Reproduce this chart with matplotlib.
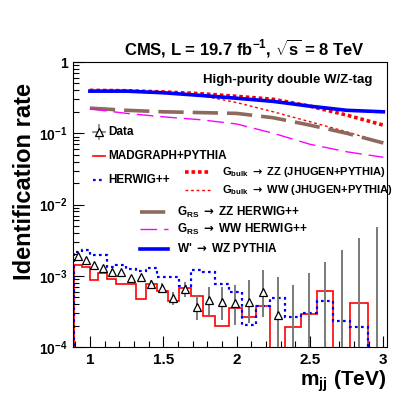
import numpy as np
import matplotlib
matplotlib.use('Agg')
import matplotlib.pyplot as plt
from matplotlib.ticker import FixedLocator, LogLocator, MultipleLocator, NullFormatter

plt.rcParams['font.family'] = ['Liberation Sans', 'DejaVu Sans']
plt.rcParams['font.weight'] = 'bold'
plt.rcParams['mathtext.fontset'] = 'custom'
plt.rcParams['mathtext.rm'] = 'Liberation Sans:bold'
plt.rcParams['mathtext.bf'] = 'Liberation Sans:bold'
plt.rcParams['mathtext.it'] = 'Liberation Sans:bold'
plt.rcParams['mathtext.sf'] = 'DejaVu Sans'
plt.rcParams['mathtext.default'] = 'bf'

# dijet mass bin edges (TeV)
edges = [0.890, 0.944, 1.000, 1.058, 1.118, 1.181, 1.246, 1.313, 1.383, 1.455, 1.530,
         1.607, 1.687, 1.770, 1.856, 1.945, 2.037, 2.132, 2.231, 2.332, 2.438, 2.546,
         2.659, 2.775, 2.895, 3.019]

# data: identification rate with error bar ends (0 = empty bin)
data_rate = [1.89e-3, 1.66e-3, 1.42e-3, 1.27e-3, 1.14e-3, 1.12e-3, 9.2e-4, 9.7e-4, 7.7e-4,
             6.7e-4, 4.9e-4, 6.45e-4, 3.64e-4, 4.57e-4, 4.24e-4, 4.15e-4, 4.33e-4, 5.97e-4,
             2.81e-4, 0, 0, 0, 0, 0, 0]
data_up = [2.0e-3, 1.76e-3, 1.51e-3, 1.36e-3, 1.23e-3, 1.21e-3, 1.0e-3, 1.06e-3, 8.7e-4,
           7.9e-4, 5.97e-4, 8.25e-4, 5.37e-4, 7.02e-4, 6.95e-4, 7.41e-4, 8.7e-4, 1.2e-3,
           9.6e-4, 7.4e-4, 1.09e-3, 1.56e-3, 2.3e-3, 3.39e-3, 4.83e-3]
data_dn = [1.78e-3, 1.56e-3, 1.33e-3, 1.18e-3, 1.05e-3, 1.03e-3, 8.4e-4, 8.8e-4, 6.8e-4,
           5.73e-4, 3.88e-4, 5.08e-4, 2.39e-4, 2.81e-4, 2.39e-4, 2.04e-4, 2.17e-4, 2.66e-4,
           0, 0, 0, 0, 0, 0, 0]

# QCD simulation
madgraph = [1.43e-3, 1.34e-3, 8.6e-4, 1.08e-3, 9.1e-4, 7.66e-4, 7.66e-4, 4.67e-4, 7.74e-4,
            6.17e-4, 4.43e-4, 6.73e-4, 5.2e-4, 2.72e-4, 1.97e-4, 3.52e-4, 2.61e-4, 3.76e-4,
            0, 1.89e-4, 2.9e-4, 6.1e-4, 0, 4.1e-4, 0]
herwig = [2.13e-3, 2.30e-3, 1.95e-3, 1.95e-3, 1.34e-3, 1.42e-3, 1.23e-3, 1.17e-3, 1.30e-3,
          9.6e-4, 9.6e-4, 7.18e-4, 1.2e-3, 1.13e-3, 7.66e-4, 5.86e-4, 2.04e-4, 3.76e-4,
          4.83e-4, 2.66e-4, 3.03e-4, 4.43e-4, 2.32e-4, 1.93e-4, 0]

# signal efficiencies vs resonance mass
sig_mass = [1.0, 1.25, 1.5, 1.75, 2.0, 2.25, 2.5, 2.75, 3.0]
bulk_zz = [0.40, 0.395, 0.38, 0.36, 0.33, 0.30, 0.24, 0.18, 0.13]
bulk_ww = [0.40, 0.39, 0.37, 0.34, 0.27, 0.20, 0.145, 0.105, 0.073]
rs_zz = [0.225, 0.21, 0.20, 0.195, 0.19, 0.165, 0.13, 0.10, 0.073]
rs_ww = [0.22, 0.19, 0.17, 0.155, 0.135, 0.10, 0.07, 0.055, 0.046]
wprime = [0.39, 0.39, 0.37, 0.34, 0.31, 0.28, 0.24, 0.21, 0.20]

edges = np.array(edges)
centers = 0.5 * (edges[1:] + edges[:-1])
floor = 1e-6


def pos(v):
    v = np.array(v, dtype=float)
    return np.where(v > 0, v, floor)


fig = plt.figure(figsize=(4.07, 3.99), dpi=100)
ax = fig.add_axes([73 / 407, 1 - 347 / 399, 314 / 407, 285 / 399])
ax.set_yscale('log')

brown = '#8c6a5e'
ebar = '#7a7a7a'
ax.stairs(pos(madgraph), edges, color='red', lw=1.2)
ax.stairs(pos(herwig), edges, color='blue', lw=1.6, linestyle=(0, (1.2, 1.5)))

ax.vlines(centers, pos(data_dn), pos(data_up), color=ebar, lw=1.4, zorder=3)
rate = np.array(data_rate)
m = rate > 0
ax.plot(centers[m], rate[m], ls='none', marker='^', ms=6, mfc='white', mec='black',
        mew=0.9, zorder=4)

ax.plot(sig_mass, bulk_zz, color='red', lw=2.6, ls=(0, (1, 0.8)))
ax.plot(sig_mass, bulk_ww, color='red', lw=1.0, ls=(0, (2, 2)))
ax.plot(sig_mass, rs_zz, color=brown, lw=2.6, ls=(0, (7, 2.5)))
ax.plot(sig_mass, rs_ww, color='magenta', lw=1.0, ls=(0, (12, 5)))
ax.plot(sig_mass, wprime, color='blue', lw=2.6)

ax.set_xlim(0.885, 3.025)
ax.set_ylim(1e-4, 1)

ax.xaxis.set_minor_locator(MultipleLocator(0.1))
ax.set_xticks([1, 1.5, 2, 2.5, 3])
ax.set_xticklabels(['1', '1.5', '2', '2.5', '3'], fontsize=11, fontweight='bold')
ax.yaxis.set_major_locator(FixedLocator([1e-4, 1e-3, 1e-2, 1e-1, 1]))
ax.yaxis.set_minor_locator(LogLocator(base=10, subs=np.arange(2, 10)))
ax.yaxis.set_minor_formatter(NullFormatter())
ax.set_yticklabels([r'$10^{-4}$', r'$10^{-3}$', r'$10^{-2}$', r'$10^{-1}$', '1'],
                   fontsize=10)
ax.tick_params(which='both', direction='in', top=False, right=False, pad=4)
ax.tick_params(which='major', length=8, width=0.8)
ax.tick_params(which='minor', length=4, width=0.8)
for s in ax.spines.values():
    s.set_linewidth(0.8)

# legend drawn by hand
def ax_xy(px, py):
    return (px - 73) / 314, (347 - py) / 285


x0, y0 = ax_xy(93, 132)
x1, _ = ax_xy(105, 132)
ax.plot([x0, x1], [y0, y0], color=ebar, lw=1.2, transform=ax.transAxes)
xc, yc = ax_xy(99, 132)
_, ya = ax_xy(99, 125)
_, yb = ax_xy(99, 139)
ax.plot([xc, xc], [yb, ya], color=ebar, lw=1.2, transform=ax.transAxes)
ax.plot([xc], [yc], marker='^', ms=6, mfc='white', mec='black', mew=0.9,
        transform=ax.transAxes)

fs = 8.5
arrow = r'$\mathsf{\rightarrow}$'
short = [(156, dict(color='red', lw=1.2), 'MADGRAPH+PYTHIA'),
         (180, dict(color='blue', lw=1.6, ls=(0, (1.2, 1.5))), 'HERWIG++')]
for py, style, label in short:
    xa, yy = ax_xy(93, py)
    xb, _ = ax_xy(105, py)
    ax.plot([xa, xb], [yy, yy], transform=ax.transAxes, **style)
    ax.text(ax_xy(108, py)[0], yy, label, transform=ax.transAxes, fontsize=fs,
            fontweight='bold', va='center')
ax.text(ax_xy(108, 132)[0], y0, 'Data', transform=ax.transAxes, fontsize=fs,
        fontweight='bold', va='center')

mid = [(172, dict(color='red', lw=2.6, ls=(0, (1, 0.8))),
        r'G$_{bulk}$ ' + arrow + ' ZZ (JHUGEN+PYTHIA)'),
       (190, dict(color='red', lw=1.0, ls=(0, (2, 2))),
        r'G$_{bulk}$ ' + arrow + ' WW (JHUGEN+PYTHIA)')]
for py, style, label in mid:
    xa, yy = ax_xy(185, py)
    xb, _ = ax_xy(210, py)
    ax.plot([xa, xb], [yy, yy], transform=ax.transAxes, **style)
    ax.text(ax_xy(222, py)[0], yy, label, transform=ax.transAxes, fontsize=8,
            fontweight='bold', va='center')

low = [(212, dict(color=brown, lw=2.6, ls=(0, (7, 2.5))), r'G$_{RS}$ ' + arrow + ' ZZ HERWIG++'),
       (229, dict(color='magenta', lw=1.0, ls=(0, (12, 5))), r'G$_{RS}$ ' + arrow + ' WW HERWIG++'),
       (249, dict(color='blue', lw=2.6), "W' " + arrow + ' WZ PYTHIA')]
for py, style, label in low:
    xa, yy = ax_xy(140, py)
    xb, _ = ax_xy(168, py)
    ax.plot([xa, xb], [yy, yy], transform=ax.transAxes, **style)
    ax.text(ax_xy(177, py)[0], yy, label, transform=ax.transAxes, fontsize=fs,
            fontweight='bold', va='center')

ax.text(ax_xy(203, 80)[0], ax_xy(203, 80)[1], 'High-purity double W/Z-tag',
        transform=ax.transAxes, fontsize=9.5, fontweight='bold', va='center')

fig.text(244 / 407, 1 - 48 / 399, r'CMS, L = 19.7 fb$^{-1}$, $\sqrt{s}$ = 8 TeV',
         ha='center', va='center', fontsize=12, fontweight='bold')
fig.text(25 / 407, 1 - 181 / 399, 'Identification rate', rotation=90, ha='center',
         va='center', fontsize=17, fontweight='bold')
fig.text(386 / 407, 1 - 381 / 399, r'm$_{jj}$ (TeV)', ha='right', va='center',
         fontsize=15, fontweight='bold')

fig.savefig('out.png', dpi=100)
